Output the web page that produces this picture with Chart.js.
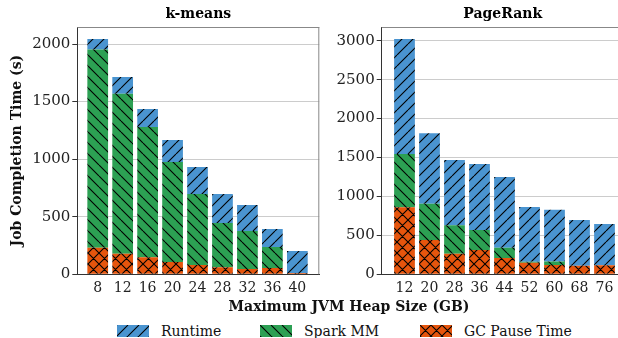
<!DOCTYPE html>
<html>
<head>
<meta charset="utf-8">
<script src="https://cdn.jsdelivr.net/npm/chart.js@4.4.0/dist/chart.umd.min.js"></script>
<style>
  body { margin: 0; width: 618px; height: 338px; overflow: hidden; background: #fff; position: relative; font-family: "DejaVu Serif", serif; color: #111; }
  canvas { position: absolute; top: 0; }
  #xlab { position: absolute; left: 0; width: 698px; top: 298px; text-align: center; font-weight: bold; font-size: 14px; line-height: 16px; }
  .lg { position: absolute; top: 323px; font-size: 14px; line-height: 16px; white-space: nowrap; }
  .lg canvas { position: absolute; top: 2px; left: 0; }
  .lg span { position: absolute; top: 0; }
</style>
</head>
<body>
<canvas id="kmeans" width="320" height="300" style="left:0"></canvas>
<canvas id="pagerank" width="298" height="300" style="left:320px"></canvas>
<div id="xlab">Maximum JVM Heap Size (GB)</div>
<div class="lg" style="left:117px"><canvas id="lg0" width="32" height="12"></canvas><span style="left:44px">Runtime</span></div>
<div class="lg" style="left:260px"><canvas id="lg1" width="32" height="12"></canvas><span style="left:44px">Spark MM</span></div>
<div class="lg" style="left:420px"><canvas id="lg2" width="32" height="12"></canvas><span style="left:44px">GC Pause Time</span></div>
<script>
// k-means panel (seconds)
const heapKmeans = [8, 12, 16, 20, 24, 28, 32, 36, 40];
const kmeansGC = [231, 179, 148, 107, 81, 61, 46, 55, 12];
const kmeansSparkMM = [1722, 1389, 1131, 868, 616, 385, 330, 182, 0];
const kmeansRuntime = [90, 145, 156, 191, 235, 251, 226, 157, 191];

// PageRank panel (seconds)
const heapPagerank = [12, 20, 28, 36, 44, 52, 60, 68, 76];
const pagerankGC = [860, 441, 265, 312, 210, 148, 120, 111, 116];
const pagerankSparkMM = [685, 466, 364, 257, 132, 12, 45, 0, 0];
const pagerankRuntime = [1476, 903, 839, 848, 908, 704, 665, 587, 530];

const kmeansTicks = [0, 500, 1000, 1500, 2000];
const pagerankTicks = [0, 500, 1000, 1500, 2000, 2500, 3000];

const BLUE = "#4a94d0", GREEN = "#2ca053", ORANGE = "#e6550d";
const FONT = "DejaVu Serif";

function hatch(color, kind) {
  const s = 11;
  const c = document.createElement("canvas");
  c.width = s; c.height = s;
  const g = c.getContext("2d");
  g.fillStyle = color;
  g.fillRect(0, 0, s, s);
  g.strokeStyle = "#000";
  g.lineWidth = 1.1;
  g.beginPath();
  for (let k = -1; k <= 1; k++) {
    if (kind != "\\") { g.moveTo(k * s, s); g.lineTo(k * s + s, 0); }
    if (kind != "/") { g.moveTo(k * s, 0); g.lineTo(k * s + s, s); }
  }
  g.stroke();
  return g.createPattern(c, "repeat");
}

const fills = [hatch(BLUE, "/"), hatch(GREEN, "\\"), hatch(ORANGE, "x")];

// legend swatches
[["lg0", BLUE, "/"], ["lg1", GREEN, "\\"], ["lg2", ORANGE, "x"]].forEach(([id, col, kind]) => {
  const ctx = document.getElementById(id).getContext("2d");
  ctx.fillStyle = hatch(col, kind);
  ctx.fillRect(0, 0, 32, 12);
});

const framePlugin = {
  id: "panelFrame",
  afterDraw(chart, args, opts) {
    const a = chart.chartArea, ctx = chart.ctx;
    ctx.save();
    ctx.strokeStyle = "#888";
    ctx.lineWidth = 1;
    ctx.beginPath();
    ctx.moveTo(a.left, a.top + 0.5);
    ctx.lineTo(a.right, a.top + 0.5);
    if (opts.right) {
      ctx.moveTo(a.right - 0.5, a.top);
      ctx.lineTo(a.right - 0.5, a.bottom);
    }
    ctx.stroke();
    ctx.fillStyle = "#000";
    ctx.font = "bold 14px " + FONT;
    ctx.textAlign = "center";
    ctx.textBaseline = "middle";
    ctx.fillText(opts.text, a.left + 121, 14);
    ctx.restore();
  }
};

function makeChart(id, labels, gc, mm, rt, yTicks, yMax, xMin, xMax, yWidth, yTitle, rightSpine, title) {
  const pts = arr => arr.map((v, i) => ({ x: i, y: v }));
  return new Chart(document.getElementById(id), {
    type: "bar",
    data: {
      datasets: [
        { label: "GC Pause Time", data: pts(gc), backgroundColor: fills[2] },
        { label: "Spark MM", data: pts(mm), backgroundColor: fills[1] },
        { label: "Runtime", data: pts(rt), backgroundColor: fills[0] }
      ]
    },
    options: {
      responsive: false,
      animation: false,
      devicePixelRatio: 1,
      layout: { padding: { top: 27, left: 0, right: rightSpine ? 0.7 : 0, bottom: 0 } },
      datasets: { bar: { barPercentage: 0.83, categoryPercentage: 1, borderWidth: 0 } },
      plugins: {
        legend: { display: false },
        tooltip: { enabled: false },
        panelFrame: { text: title, right: rightSpine }
      },
      scales: {
        x: {
          type: "linear",
          offset: false,
          stacked: true,
          min: xMin,
          max: xMax,
          afterBuildTicks: s => { s.ticks = labels.map((v, i) => ({ value: i })); },
          afterFit: s => { s.height = 300 - 274.3; s.paddingLeft = 0; s.paddingRight = 0; },
          grid: { display: false, drawTicks: false },
          border: { color: "#333", width: 1 },
          ticks: {
            autoSkip: false, maxRotation: 0, padding: 6,
            color: "#222", font: { family: FONT, size: 14 },
            callback: v => labels[v]
          }
        },
        y: {
          stacked: true,
          min: 0,
          max: yMax,
          afterBuildTicks: s => { s.ticks = yTicks.map(v => ({ value: v })); },
          afterFit: s => { s.width = yWidth; s.paddingTop = 0; s.paddingBottom = 0; },
          grid: { color: "#cccccc", lineWidth: 1, tickLength: 5, tickColor: "#333" },
          border: { color: "#333", width: 1 },
          ticks: { padding: 2, color: "#222", font: { family: FONT, size: 15 }, callback: v => String(v) },
          title: {
            display: !!yTitle, text: yTitle, color: "#111",
            font: { family: FONT, size: 14, weight: "bold" },
            padding: { top: 9, bottom: 0 }
          }
        }
      }
    },
    plugins: [framePlugin]
  });
}

makeChart("kmeans", heapKmeans, kmeansGC, kmeansSparkMM, kmeansRuntime,
  kmeansTicks, 2148, -0.818, 8.88, 77.3, "Job Completion Time (s)", true, "k-means");
makeChart("pagerank", heapPagerank, pagerankGC, pagerankSparkMM, pagerankRuntime,
  pagerankTicks, 3176, -0.912, 8.54, 61.7, "", false, "PageRank");
</script>
</body>
</html>
